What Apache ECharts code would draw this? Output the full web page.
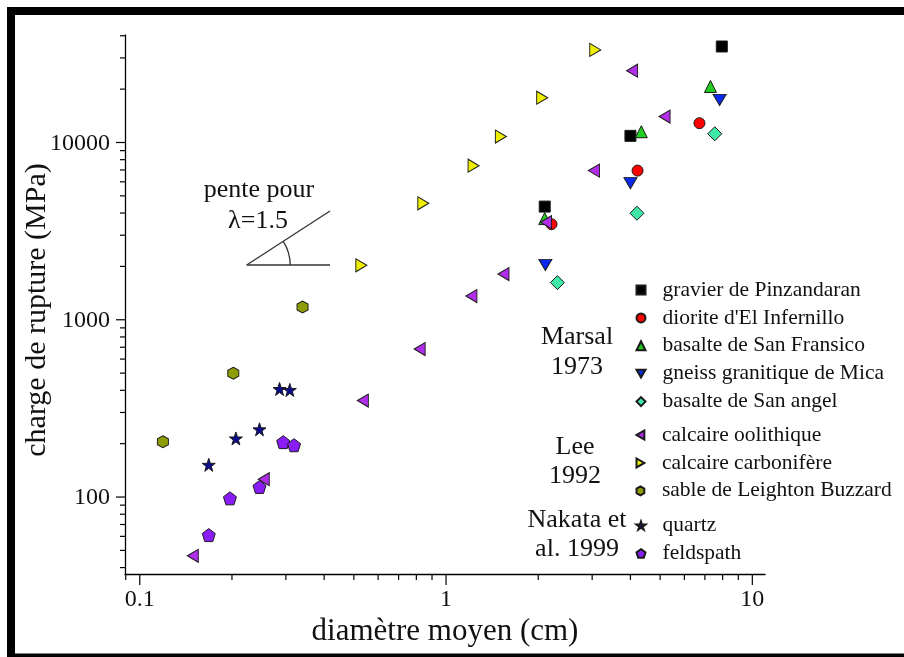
<!DOCTYPE html>
<html>
<head>
<meta charset="utf-8">
<script src="https://cdn.jsdelivr.net/npm/echarts@6/dist/echarts.min.js"></script>
<style>
html,body{margin:0;padding:0;background:#fff;}
#chart{width:904px;height:657px;}
</style>
</head>
<body>
<div id="chart"></div>
<script>
// ---- data (diamètre moyen cm, charge de rupture MPa) ----
const gravierX = [2.10, 4.00, 7.95];
const gravierY = [4350, 10900, 34800];
const dioriteX = [2.21, 4.22, 6.72];
const dioriteY = [3460, 6940, 12850];
const basalteSFX = [2.10, 4.34, 7.30];
const basalteSFY = [3720, 11500, 20700];
const gneissX = [2.11, 4.00, 7.82];
const gneissY = [2040, 5900, 17400];
const basalteSAX = [2.31, 4.20, 7.54];
const basalteSAY = [1620, 3990, 11200];
const oolithiqueX = [0.149, 0.254, 0.535, 0.82, 1.21, 1.54, 2.12, 3.04, 4.05, 5.17];
const oolithiqueY = [46.6, 126, 350, 684, 1360, 1810, 3550, 6940, 25400, 14000];
const carboX = [0.529, 0.843, 1.23, 1.51, 2.06, 3.07];
const carboY = [2030, 4540, 7400, 10800, 17900, 33300];
const sableX = [0.119, 0.202, 0.340];
const sableY = [205, 499, 1180];
const quartzX = [0.168, 0.206, 0.246, 0.286, 0.309];
const quartzY = [152, 214, 241, 407, 402];
const feldspathX = [0.168, 0.197, 0.246, 0.294, 0.319];
const feldspathY = [61, 98.3, 114, 204, 196];

const seriesNames = ["gravier de Pinzandaran", "diorite d'El Infernillo", "basalte de San Fransico",
  "gneiss granitique de Mica", "basalte de San angel", "calcaire oolithique",
  "calcaire carbonifère", "sable de Leighton Buzzard", "quartz", "feldspath"];

// ---- axis ticks ----
const xMajorTicks = [0.1, 1, 10];
const xMajorLabels = ["0.1", "1", "10"];
const xMinorTicks = [0.09, 0.2, 0.3, 0.4, 0.5, 0.6, 0.7, 0.8, 0.9, 2, 3, 4, 5, 6, 7, 8, 9];
const yMajorTicks = [100, 1000, 10000];
const yMajorLabels = ["100", "1000", "10000"];
const yMinorTicks = [40, 50, 60, 70, 80, 90, 200, 300, 400, 500, 600, 700, 800, 900,
  2000, 3000, 4000, 5000, 6000, 7000, 8000, 9000, 20000, 30000, 40000];

const X_MIN = 0.0895, X_MAX = 11.0, Y_MIN = 36.8, Y_MAX = 40400;
const FONT = "'Liberation Serif', 'DejaVu Serif', serif";
const TXT = '#111';

function zip(xs, ys) { return xs.map((x, i) => [x, ys[i]]); }

const STAR = 'path://M50,0L61.8,35.1L98.1,35.1L68.8,56.8L79.4,90.5L50,69.5L20.6,90.5L31.2,56.8L1.9,35.1L38.2,35.1Z';
const PENTA = 'path://M50,0L97.6,34.5L79.4,90.5L20.6,90.5L2.4,34.5Z';
const HEXA = 'path://M50,0L93.3,25L93.3,75L50,100L6.7,75L6.7,25Z';
const TRI_DOWN = 'path://M0,0L100,0L50,87Z';
const TRI_LEFT = 'path://M87,0L87,100L0,50Z';
const TRI_RIGHT = 'path://M0,0L0,100L87,50Z';

function sc(name, xs, ys, symbol, size, color) {
  return {
    type: 'scatter', name: name, data: zip(xs, ys), symbol: symbol, symbolSize: size,
    itemStyle: { color: color, borderColor: '#1a1a1a', borderWidth: 1, opacity: 1 },
    emphasis: { disabled: true }, silent: true
  };
}

function tickSeries(vals, isX, len, labels) {
  return {
    type: 'custom', silent: true, z: 5,
    data: vals.map(v => isX ? [v, Y_MIN] : [X_MIN, v]),
    renderItem: function (params, api) {
      const p = api.coord([api.value(0), api.value(1)]);
      const children = [];
      if (isX) {
        children.push({ type: 'line', shape: { x1: p[0], y1: p[1], x2: p[0], y2: p[1] + len },
          style: { stroke: '#000', lineWidth: 1.2 } });
        if (labels) children.push({ type: 'text', style: { text: labels[params.dataIndex], x: p[0], y: p[1] + 26,
          align: 'center', verticalAlign: 'middle', textAlign: 'center', textVerticalAlign: 'middle',
          font: '24px ' + FONT, fill: TXT } });
      } else {
        children.push({ type: 'line', shape: { x1: p[0] - len, y1: p[1], x2: p[0], y2: p[1] },
          style: { stroke: '#000', lineWidth: 1.2 } });
        if (labels) children.push({ type: 'text', style: { text: labels[params.dataIndex], x: 110, y: p[1] + 1,
          align: 'right', verticalAlign: 'middle', textAlign: 'right', textVerticalAlign: 'middle',
          font: '24px ' + FONT, fill: TXT } });
      }
      return { type: 'group', children: children };
    }
  };
}

function legendGroup(names, top) {
  return {
    data: names, orient: 'vertical', left: 635.5, top: top, align: 'left',
    itemWidth: 9, itemHeight: 9, itemGap: 5.9, selectedMode: false,
    textStyle: { fontFamily: FONT, fontSize: 21.5, lineHeight: 21, color: TXT, padding: [0, 0, 0, 12] },
    padding: 0
  };
}

const chart = echarts.init(document.getElementById('chart'), null, { renderer: 'canvas' });
chart.setOption({
  animation: false,
  backgroundColor: '#fff',
  grid: { left: 125, right: 139, top: 35, bottom: 83, containLabel: false },
  xAxis: {
    type: 'log', logBase: 10, min: X_MIN, max: X_MAX,
    axisLine: { show: true, onZero: false, lineStyle: { color: '#000', width: 1.3 } },
    axisTick: { show: false }, axisLabel: { show: false }, splitLine: { show: false }, minorTick: { show: false }
  },
  yAxis: {
    type: 'log', logBase: 10, min: Y_MIN, max: Y_MAX,
    axisLine: { show: true, onZero: false, lineStyle: { color: '#000', width: 1.3 } },
    axisTick: { show: false }, axisLabel: { show: false }, splitLine: { show: false }, minorTick: { show: false }
  },
  legend: [
    legendGroup(seriesNames.slice(0, 5), 279),
    legendGroup(seriesNames.slice(5, 8), 424),
    legendGroup(seriesNames.slice(8, 10), 514.5)
  ],
  series: [
    sc(seriesNames[0], gravierX, gravierY, 'rect', 11, '#000000'),
    sc(seriesNames[1], dioriteX, dioriteY, 'circle', 11, '#ff0000'),
    sc(seriesNames[2], basalteSFX, basalteSFY, 'triangle', 12, '#22cc22'),
    sc(seriesNames[3], gneissX, gneissY, TRI_DOWN, [13, 11], '#0a28ee'),
    sc(seriesNames[4], basalteSAX, basalteSAY, 'diamond', 14, '#40e8a8'),
    sc(seriesNames[5], oolithiqueX, oolithiqueY, TRI_LEFT, [11, 13], '#b02ee8'),
    sc(seriesNames[6], carboX, carboY, TRI_RIGHT, [11, 13], '#eeee00'),
    sc(seriesNames[7], sableX, sableY, HEXA, [11, 12], '#8f9c06'),
    sc(seriesNames[8], quartzX, quartzY, STAR, 13, '#0b0b8c'),
    sc(seriesNames[9], feldspathX, feldspathY, PENTA, 13, '#8a1cf5'),
    tickSeries(xMajorTicks, true, 11, xMajorLabels),
    tickSeries(xMinorTicks, true, 6, null),
    tickSeries(yMajorTicks, false, 9, yMajorLabels),
    tickSeries(yMinorTicks, false, 5, null)
  ],
  graphic: [
    // frame
    { type: 'rect', shape: { x: 7, y: 7, width: 897, height: 8 }, style: { fill: '#000' }, silent: true },
    { type: 'rect', shape: { x: 7, y: 7, width: 8, height: 650 }, style: { fill: '#000' }, silent: true },
    { type: 'rect', shape: { x: 7, y: 653.5, width: 897, height: 4 }, style: { fill: '#000' }, silent: true },
    // axis titles
    { type: 'text', x: 445, y: 632, style: { text: 'diamètre moyen (cm)', font: '31px ' + FONT, fill: TXT,
      align: 'center', verticalAlign: 'middle', textAlign: 'center', textVerticalAlign: 'middle' }, silent: true },
    { type: 'text', x: 37, y: 310, rotation: Math.PI / 2, style: { text: 'charge de rupture (MPa)', font: '30px ' + FONT, fill: TXT,
      align: 'center', verticalAlign: 'middle', textAlign: 'center', textVerticalAlign: 'middle' }, silent: true },
    // slope annotation
    { type: 'text', x: 259, y: 190, style: { text: 'pente pour', font: '26px ' + FONT, fill: TXT,
      align: 'center', verticalAlign: 'middle', textAlign: 'center', textVerticalAlign: 'middle' }, silent: true },
    { type: 'text', x: 258, y: 221, style: { text: 'λ=1.5', font: '26px ' + FONT, fill: TXT,
      align: 'center', verticalAlign: 'middle', textAlign: 'center', textVerticalAlign: 'middle' }, silent: true },
    { type: 'line', shape: { x1: 246.7, y1: 265, x2: 330, y2: 265 }, style: { stroke: '#333', lineWidth: 1.3 }, silent: true },
    { type: 'line', shape: { x1: 246.7, y1: 265, x2: 330, y2: 211 }, style: { stroke: '#333', lineWidth: 1.3 }, silent: true },
    { type: 'arc', shape: { cx: 246.7, cy: 265, r: 43.5, startAngle: -0.575, endAngle: 0, clockwise: true },
      style: { stroke: '#333', lineWidth: 1.3, fill: null }, silent: true },
    // study labels
    { type: 'text', x: 577, y: 337, style: { text: 'Marsal', font: '26px ' + FONT, fill: TXT,
      align: 'center', verticalAlign: 'middle', textAlign: 'center', textVerticalAlign: 'middle' }, silent: true },
    { type: 'text', x: 577, y: 367, style: { text: '1973', font: '26px ' + FONT, fill: TXT,
      align: 'center', verticalAlign: 'middle', textAlign: 'center', textVerticalAlign: 'middle' }, silent: true },
    { type: 'text', x: 575, y: 447, style: { text: 'Lee', font: '26px ' + FONT, fill: TXT,
      align: 'center', verticalAlign: 'middle', textAlign: 'center', textVerticalAlign: 'middle' }, silent: true },
    { type: 'text', x: 575, y: 476, style: { text: '1992', font: '26px ' + FONT, fill: TXT,
      align: 'center', verticalAlign: 'middle', textAlign: 'center', textVerticalAlign: 'middle' }, silent: true },
    { type: 'text', x: 577, y: 520, style: { text: 'Nakata et', font: '26px ' + FONT, fill: TXT,
      align: 'center', verticalAlign: 'middle', textAlign: 'center', textVerticalAlign: 'middle' }, silent: true },
    { type: 'text', x: 577, y: 549, style: { text: 'al. 1999', font: '26px ' + FONT, fill: TXT,
      align: 'center', verticalAlign: 'middle', textAlign: 'center', textVerticalAlign: 'middle' }, silent: true }
  ]
});
</script>
</body>
</html>
